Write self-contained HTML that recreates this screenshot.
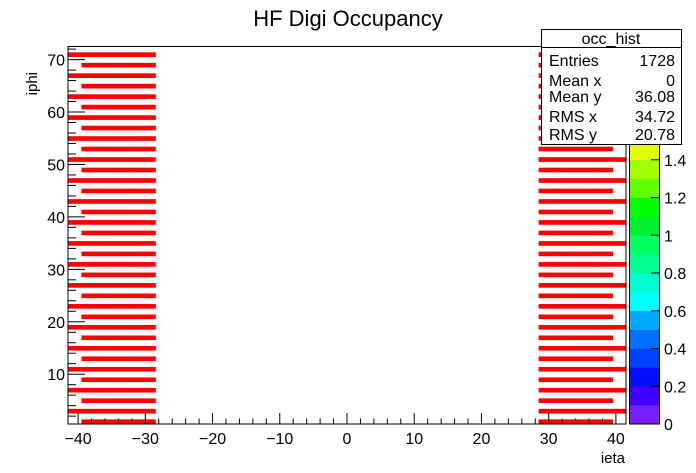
<!DOCTYPE html>
<html><head><meta charset="utf-8"><style>
html,body{margin:0;padding:0;background:#fff;}
svg{display:block;font-family:"Liberation Sans",sans-serif;}
</style></head><body>
<svg id="c" width="696" height="473" viewBox="0 0 696 473">
<rect x="0" y="0" width="696" height="473" fill="#fff"/>
<text x="348" y="26" font-size="22" text-anchor="middle">HF Digi Occupancy</text>
<text transform="translate(37,72) rotate(-90)" font-size="15" text-anchor="end">iphi</text>
<text x="625" y="463" font-size="15" text-anchor="end">ieta</text>
<g id="marks"></g>
<g id="pal"></g>
<rect x="68" y="46.5" width="558" height="377.5" fill="none" stroke="#000" stroke-width="1"/>
<g id="axes"></g>
<g>
<rect x="541.5" y="29.5" width="140" height="115" fill="#fff" stroke="#000"/>
<line x1="541.5" y1="47.5" x2="681.5" y2="47.5" stroke="#000"/>
<text x="611" y="44" font-size="16" text-anchor="middle">occ_hist</text>
<g font-size="16">
<text x="549" y="66">Entries</text><text x="675" y="66" text-anchor="end">1728</text>
<text x="549" y="86">Mean x</text><text x="675" y="86" text-anchor="end">0</text>
<text x="549" y="102">Mean y</text><text x="675" y="102" text-anchor="end">36.08</text>
<text x="549" y="122">RMS x</text><text x="675" y="122" text-anchor="end">34.72</text>
<text x="549" y="140">RMS y</text><text x="675" y="140" text-anchor="end">20.78</text>
</g></g>
</svg>
<script>
const ietaBins = [-41,-40,-39,-38,-37,-36,-35,-34,-33,-32,-31,-30,-29,29,30,31,32,33,34,35,36,37,38,39,40,41];
const iphiOdd = [];
for (let p = 1; p <= 71; p += 2) iphiOdd.push(p);
const cellValue = 2;
const xTicks = [-40,-30,-20,-10,0,10,20,30,40];
const yTicks = [10,20,30,40,50,60,70];
const zTicks = [0,0.2,0.4,0.6,0.8,1,1.2,1.4];
const zColors = ["#7a20ff","#4000ff","#0010ff","#0040ff","#0070ff","#00a8ff","#00ffff","#00ffd0","#00ff90","#00ff60","#00f030","#00ff00","#60ff00","#a0ff00","#e0ff00","#ffff00","#ffd000","#ff9000","#ff4000","#ff0000"];
const NS="http://www.w3.org/2000/svg";
const X0=68,X1=626,Y0=424,Y1=46.5;
const xmin=-41.5,xmax=41.5,ymin=0.5,ymax=72.5,zmax=2.0;
const sx=v=>X0+(v-xmin)/(xmax-xmin)*(X1-X0);
const sy=v=>Y0-(v-ymin)/(ymax-ymin)*(Y0-Y1);
const PX0=629,PX1=660;
const sz=v=>Y0-v/zmax*(Y0-Y1);
function mk(t,a,p){const e=document.createElementNS(NS,t);for(const k in a)e.setAttribute(k,a[k]);p.appendChild(e);return e;}
const marks=document.getElementById('marks');
ietaBins.forEach(ie=>{
  iphiOdd.forEach(ip=>{
    if(Math.abs(ie)>=40 && ip%4!==3) return;
    const ci=Math.max(0,Math.min(19,Math.floor(cellValue/zmax*20)));
    const r=mk('rect',{x:sx(ie-0.5),y:sy(ip+0.5)+0.6,width:sx(ie+0.5)-sx(ie-0.5)+0.4,height:sy(ip-0.5)-sy(ip+0.5)-0.6,fill:zColors[ci]},marks);
    
    
  });
});
const pal=document.getElementById('pal');
zColors.forEach((c,i)=>{
  const r=mk('rect',{x:PX0,y:sz((i+1)*0.1),width:PX1-PX0,height:sz(i*0.1)-sz((i+1)*0.1)+0.3,fill:c},pal);
  
  
});
mk('rect',{x:PX0+0.5,y:Y1,width:PX1-PX0-1,height:Y0-Y1,fill:'none',stroke:'#000'},pal);
zTicks.forEach(v=>{
  mk('line',{x1:PX1-9,x2:PX1,y1:sz(v),y2:sz(v),stroke:'#000'},pal);
  const t=mk('text',{x:PX1+4,y:sz(v)+6,'font-size':16},pal);t.textContent=String(v);
  
  
});
const ax=document.getElementById('axes');
for(let v=-40;v<=40;v+=2){
  const major=v%10===0;
  mk('line',{x1:sx(v),x2:sx(v),y1:Y0,y2:Y0-(major?11:5.5),stroke:'#000'},ax);
}
xTicks.forEach(v=>{
  const t=mk('text',{x:sx(v),y:444,'font-size':16,'text-anchor':'middle'},ax);
  t.textContent=v<0?'\u2212'+Math.abs(v):String(v);
  
  
});
for(let v=2;v<=72;v+=2){
  const major=v%10===0;
  mk('line',{x1:X0,x2:X0+(major?17:8),y1:sy(v),y2:sy(v),stroke:'#000'},ax);
}
yTicks.forEach(v=>{
  const t=mk('text',{x:X0-3,y:sy(v)+6,'font-size':16,'text-anchor':'end'},ax);
  t.textContent=String(v);
  
  
});
</script>
</body></html>
